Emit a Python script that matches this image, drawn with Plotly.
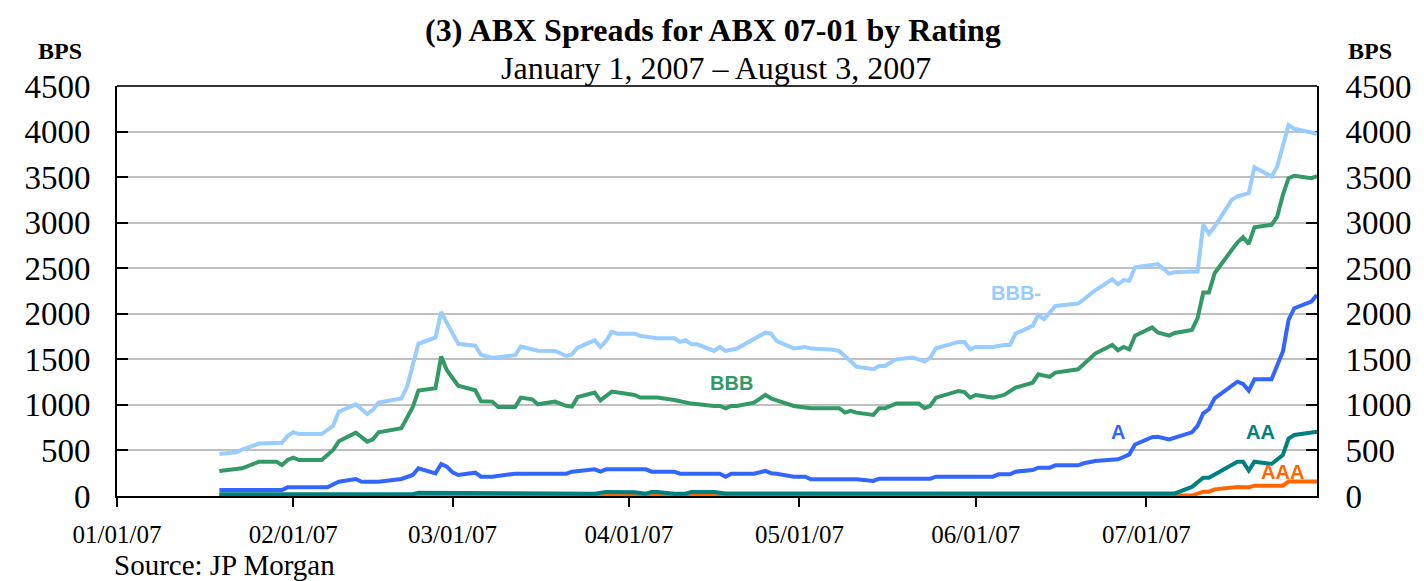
import pandas as pd
import plotly.graph_objects as go

# ---------------- data ----------------
bbbm_dates = ["1/19","1/22","1/23","1/26","1/30","1/31","2/1","2/2","2/6","2/8","2/9","2/12","2/14","2/15","2/16",
              "2/20","2/21","2/22","2/23","2/26","2/27","2/28","3/1","3/2","3/5","3/6","3/8","3/9","3/12","3/13",
              "3/15","3/16","3/19","3/21","3/22","3/23","3/26","3/27","3/28","3/29","3/30","4/2","4/3","4/6","4/9",
              "4/10","4/11","4/12","4/13","4/16","4/17","4/18","4/20","4/23","4/25","4/26","4/27","4/30","5/2",
              "5/3","5/7","5/8","5/9","5/10","5/11","5/14","5/15","5/16","5/18","5/21","5/23","5/24","5/25","5/29",
              "5/30","5/31","6/1","6/4","6/6","6/7","6/8","6/11","6/12","6/13","6/15","6/19","6/20","6/22","6/25",
              "6/26","6/27","6/28","6/29","7/3","7/5","7/6","7/9","7/10","7/11","7/12","7/13","7/16","7/17","7/18",
              "7/19","7/20","7/23","7/24","7/25","7/26","7/27","7/30","7/31"]
bbbm_vals = [460,480,510,575,585,660,700,680,680,770,925,1005,900,945,1025,
             1070,1200,1420,1670,1740,2020,1900,1780,1670,1650,1550,1515,1520,1545,1640,
             1605,1595,1592,1537,1555,1629,1709,1636,1702,1804,1782,1782,1757,1731,1731,
             1691,1709,1665,1665,1592,1636,1592,1618,1720,1793,1782,1700,1620,1636,
             1618,1605,1590,1540,1480,1420,1391,1427,1427,1500,1519,1475,1519,1621,1691,
             1691,1610,1636,1636,1658,1658,1782,1867,1987,1940,2086,2112,2159,2258,2379,
             2324,2370,2361,2510,2545,2440,2455,2463,2463,2976,2877,2957,3250,3290,3305,
             3323,3609,3506,3616,3850,4070,4030,3985,3975]

bbb_dates = ["1/19","1/23","1/26","1/29","1/30","1/31","2/1","2/2","2/6","2/8","2/9","2/12","2/14","2/15","2/16",
             "2/20","2/22","2/23","2/26","2/27","2/28","3/1","3/2","3/5","3/6","3/8","3/9","3/12","3/13","3/15",
             "3/16","3/19","3/21","3/22","3/23","3/26","3/27","3/29","4/2","4/3","4/6","4/9","4/12","4/16","4/17",
             "4/18","4/19","4/20","4/23","4/25","4/26","4/27","4/30","5/3","5/8","5/9","5/10","5/11","5/14","5/15",
             "5/16","5/18","5/22","5/23","5/24","5/25","5/29","5/30","5/31","6/1","6/4","6/6","6/8","6/11","6/12",
             "6/14","6/15","6/19","6/20","6/22","6/25","6/26","6/27","6/28","6/29","7/2","7/3","7/5","7/6","7/9",
             "7/10","7/11","7/12","7/13","7/16","7/17","7/18","7/19","7/20","7/23","7/24","7/25","7/26","7/27",
             "7/30","7/31"]
bbb_vals = [275,304,377,377,340,395,420,395,395,505,600,695,597,622,699,
            743,974,1157,1182,1530,1380,1300,1211,1160,1040,1036,977,977,1080,1061,
            1006,1036,990,981,1087,1135,1050,1146,1109,1080,1080,1054,1014,988,988,
            963,988,988,1025,1109,1072,1050,988,963,963,915,935,915,890,963,
            963,1014,1014,963,988,1080,1153,1140,1080,1109,1080,1109,1190,1244,1336,
            1307,1354,1391,1446,1563,1658,1599,1636,1610,1760,1850,1795,1760,1790,1823,
            1951,2233,2233,2445,2700,2782,2840,2767,2950,2976,3067,3305,3488,3514,
            3488,3510]

a_dates = ["1/19","1/30","1/31","2/7","2/9","2/12","2/13","2/16","2/20","2/22","2/23","2/26","2/27","2/28","3/1",
           "3/2","3/5","3/6","3/8","3/12","3/21","3/22","3/26","3/27","3/28","4/4","4/5","4/9","4/10","4/17",
           "4/18","4/19","4/23","4/25","4/26","4/27","4/30","5/2","5/3","5/11","5/14","5/15","5/24","5/25","6/4",
           "6/5","6/7","6/8","6/11","6/12","6/14","6/15","6/19","6/20","6/22","6/26","6/27","6/28","6/29","7/2",
           "7/3","7/5","7/9","7/10","7/11","7/12","7/13","7/17","7/18","7/19","7/20","7/23","7/25","7/26","7/27",
           "7/30","7/31"]
a_vals = [66,66,95,95,157,187,157,157,187,231,304,249,351,322,260,
          231,256,212,212,245,245,267,293,267,293,293,267,267,245,245,
          212,245,245,275,250,245,212,212,183,183,165,190,190,212,212,
          238,238,267,285,311,311,337,337,359,384,403,428,457,565,645,
          651,622,699,769,908,952,1072,1255,1230,1157,1281,1281,1585,1932,2061,
          2134,2207]

aa_dates = ["1/19","2/22","2/23","3/22","3/26","3/28","4/2","4/4","4/5","4/6","4/9","4/11","4/12","4/16","4/18",
            "7/6","7/9","7/11","7/12","7/17","7/18","7/19","7/20","7/23","7/25","7/26","7/27","7/31"]
aa_vals = [20,20,35,35,25,45,40,25,45,45,25,25,45,45,28,
           28,100,200,201,377,377,280,377,351,450,630,670,706]

aaa_dates = ["1/19","7/9","7/11","7/12","7/13","7/17","7/18","7/19","7/20","7/25","7/26","7/31"]
aaa_vals = [5,5,48,48,73,100,95,95,113,113,160,160]

y_ticks = [0, 500, 1000, 1500, 2000, 2500, 3000, 3500, 4000, 4500]
x_ticks = ["2007-01-01", "2007-02-01", "2007-03-01", "2007-04-01", "2007-05-01", "2007-06-01", "2007-07-01"]

title_text = "(3) ABX Spreads for ABX 07-01 by Rating"
subtitle_text = "January 1, 2007 \u2013 August 3, 2007"
source_text = "Source: JP Morgan"


def to_dates(lst):
    return pd.to_datetime(["2007/" + s for s in lst], format="%Y/%m/%d")


series = [
    ("BBB-", bbbm_dates, bbbm_vals, "#99CCFF"),
    ("BBB", bbb_dates, bbb_vals, "#339966"),
    ("A", a_dates, a_vals, "#3366FF"),
    ("AAA", aaa_dates, aaa_vals, "#FF6600"),
    ("AA", aa_dates, aa_vals, "#008080"),
]

fig = go.Figure()
for name, dts, vals, col in series:
    fig.add_trace(go.Scatter(x=to_dates(dts), y=vals, mode="lines", name=name,
                             line=dict(color=col, width=4), showlegend=False))

# dummy trace so the right-hand axis is rendered
fig.add_trace(go.Scatter(x=[None], y=[None], yaxis="y2", showlegend=False, hoverinfo="skip"))

serif = "Liberation Serif"
sans = "Liberation Sans"

W, H = 1424, 581
L, R, T, B = 117, 99, 86, 85

fig.update_layout(
    width=W, height=H,
    margin=dict(l=L, r=R, t=T, b=B),
    paper_bgcolor="white", plot_bgcolor="white",
    xaxis=dict(
        type="date", range=["2007-01-01", "2007-07-31"],
        tickvals=x_ticks, tickformat="%m/%d/%y",
        ticks="outside", ticklen=9, tickwidth=2, tickcolor="black",
        showline=True, linecolor="black", linewidth=2, mirror=False,
        showgrid=False, zeroline=False,
        tickfont=dict(family=serif, size=25, color="black"),
        ticklabelstandoff=6, layer="below traces",
    ),
    yaxis=dict(
        range=[0, 4500], tickvals=y_ticks,
        ticks="inside", ticklen=11, tickwidth=2, tickcolor="black",
        showline=True, linecolor="black", linewidth=2,
        showgrid=True, gridcolor="#C0C0C0", gridwidth=2, zeroline=False,
        tickfont=dict(family=serif, size=33, color="black"),
        ticklabelstandoff=18, layer="below traces",
    ),
    yaxis2=dict(
        range=[0, 4500], tickvals=y_ticks, overlaying="y", side="right",
        ticks="inside", ticklen=11, tickwidth=2, tickcolor="black",
        showline=True, linecolor="black", linewidth=2,
        showgrid=False, zeroline=False,
        tickfont=dict(family=serif, size=33, color="black"),
        ticklabelstandoff=20, layer="below traces",
    ),
    shapes=[dict(type="line", xref="paper", yref="paper", x0=0, x1=1, y0=1, y1=1,
                 line=dict(color="#333333", width=2))],
)

pw, ph = W - L - R, H - T - B


def px_to_paper(px, py):
    return (px - L) / pw, (H - B - py) / ph


header = [
    ("<b>" + title_text + "</b>", 717, 30, 32, "center"),
    (subtitle_text, 720, 68, 32, "center"),
    ("<b>BPS</b>", 60, 51, 24, "center"),
    ("<b>BPS</b>", 1378, 51, 24, "center"),
    (source_text, 112, 565, 29, "left"),
]
annotations = []
for txt, px, py, fs, xa in header:
    xp, yp = px_to_paper(px, py)
    annotations.append(dict(text=txt, x=xp, y=yp, xref="paper", yref="paper",
                            showarrow=False, xanchor=xa, yanchor="middle",
                            font=dict(family=serif, size=fs, color="black")))

# series labels placed in data coordinates
label_specs = [("BBB-", "2007-06-08", 2228, "#99CCFF"),
               ("BBB", "2007-04-19", 1240, "#339966"),
               ("A", "2007-06-26", 700, "#3366FF"),
               ("AA", "2007-07-21", 700, "#008080"),
               ("AAA", "2007-07-25", 263, "#FF6600")]
for txt, xd, yv, col in label_specs:
    annotations.append(dict(text="<b>" + txt + "</b>", x=xd, y=yv, xref="x", yref="y",
                            showarrow=False, xanchor="center", yanchor="middle",
                            font=dict(family=sans, size=20, color=col)))

fig.update_layout(annotations=annotations)
fig.write_html("out.html", config={"displayModeBar": False},
               post_script="document.body.style.margin='0';document.body.style.overflow='hidden';")
